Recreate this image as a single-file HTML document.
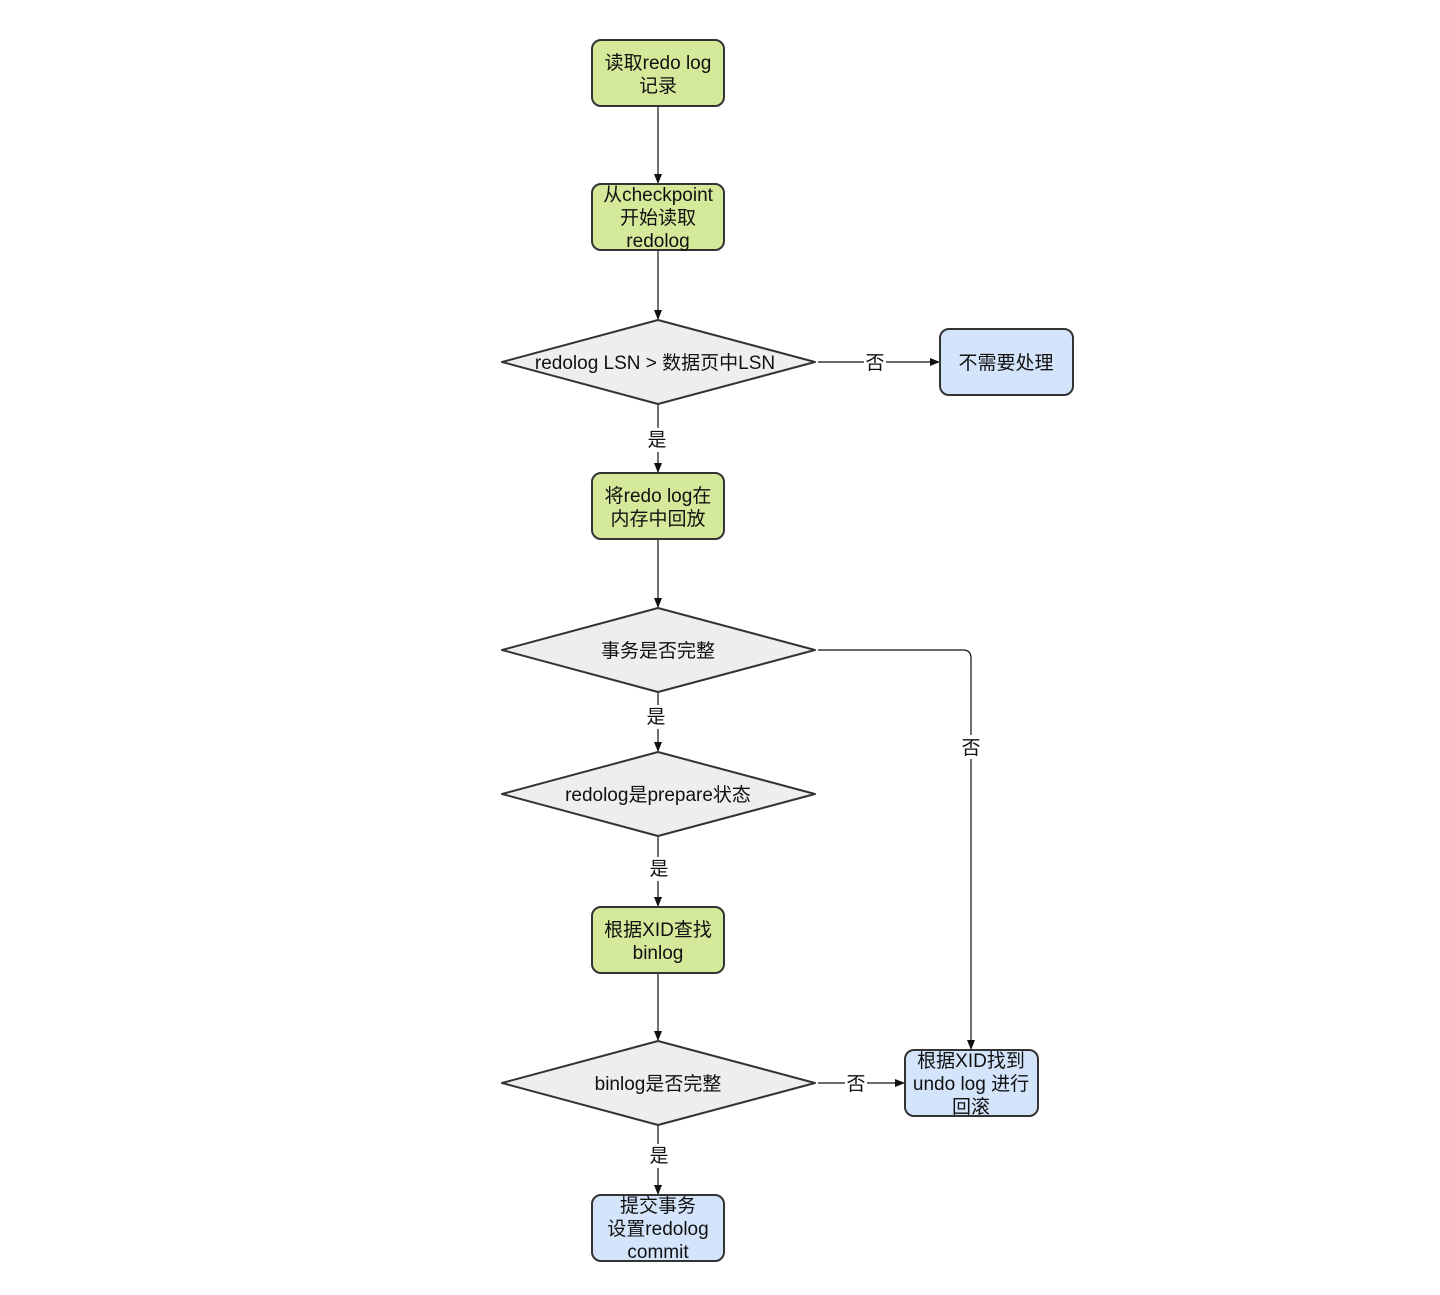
<!DOCTYPE html>
<html><head><meta charset="utf-8"><style>
body{margin:0;background:#fff}
text{font-family:"Liberation Sans","Noto Sans CJK SC",sans-serif;font-size:19px;fill:#111;text-anchor:middle}
</style></head><body>
<svg width="1440" height="1290" viewBox="0 0 1440 1290" xmlns="http://www.w3.org/2000/svg">
<defs><marker id="a" markerWidth="10" markerHeight="8" refX="9" refY="4" orient="auto" markerUnits="userSpaceOnUse"><path d="M0,0 L10,4 L0,8 z" fill="#111"/></marker></defs>
<g stroke="#111" stroke-width="1.2" fill="none" marker-end="url(#a)">
<line x1="658" y1="106" x2="658" y2="183"/>
<line x1="658" y1="250" x2="658" y2="319"/>
<line x1="818" y1="362" x2="939" y2="362"/>
<line x1="658" y1="404" x2="658" y2="472"/>
<line x1="658" y1="539" x2="658" y2="607"/>
<path d="M818,650 L963,650 Q971,650 971,658 L971,1049"/>
<line x1="658" y1="692" x2="658" y2="751"/>
<line x1="658" y1="836" x2="658" y2="906"/>
<line x1="658" y1="973" x2="658" y2="1040"/>
<line x1="818" y1="1083" x2="904" y2="1083"/>
<line x1="658" y1="1125" x2="658" y2="1194"/>
</g>
<g stroke="#333" stroke-width="2">
<rect x="592" y="40" width="132" height="66" rx="9" fill="#d5e99b"/>
<rect x="592" y="184" width="132" height="66" rx="9" fill="#d5e99b"/>
<rect x="592" y="473" width="132" height="66" rx="9" fill="#d5e99b"/>
<rect x="592" y="907" width="132" height="66" rx="9" fill="#d5e99b"/>
<rect x="940" y="329" width="133" height="66" rx="9" fill="#d4e5fb"/>
<rect x="905" y="1050" width="133" height="66" rx="9" fill="#d4e5fb"/>
<rect x="592" y="1195" width="132" height="66" rx="9" fill="#d4e5fb"/>
<path d="M658,320 L815,362 L658,404 L502,362 Z" fill="#eeeeee" stroke-linejoin="round"/>
<path d="M658,608 L815,650 L658,692 L502,650 Z" fill="#eeeeee" stroke-linejoin="round"/>
<path d="M658,752 L815,794 L658,836 L502,794 Z" fill="#eeeeee" stroke-linejoin="round"/>
<path d="M658,1041 L815,1083 L658,1125 L502,1083 Z" fill="#eeeeee" stroke-linejoin="round"/>
</g>
<g>
<rect x="864" y="350" width="22" height="24" fill="#fff"/>
<rect x="646" y="428" width="22" height="24" fill="#fff"/>
<rect x="646" y="705" width="22" height="24" fill="#fff"/>
<rect x="960" y="735" width="22" height="24" fill="#fff"/>
<rect x="648" y="857" width="22" height="24" fill="#fff"/>
<rect x="845" y="1071" width="22" height="24" fill="#fff"/>
<rect x="648" y="1144" width="22" height="24" fill="#fff"/>
</g>
<text x="658" y="69">读取redo log</text><text x="658" y="92">记录</text>
<text x="658" y="201">从checkpoint</text><text x="658" y="224">开始读取</text><text x="658" y="247">redolog</text>
<text x="655" y="369">redolog LSN &gt; 数据页中LSN</text>
<text x="1006" y="369">不需要处理</text>
<text x="875" y="369">否</text>
<text x="657" y="446">是</text>
<text x="658" y="502">将redo log在</text><text x="658" y="525">内存中回放</text>
<text x="658" y="657">事务是否完整</text>
<text x="656" y="723">是</text>
<text x="971" y="754">否</text>
<text x="658" y="801">redolog是prepare状态</text>
<text x="659" y="875">是</text>
<text x="658" y="936">根据XID查找</text><text x="658" y="959">binlog</text>
<text x="658" y="1090">binlog是否完整</text>
<text x="856" y="1090">否</text>
<text x="971" y="1067">根据XID找到</text><text x="971" y="1090">undo log 进行</text><text x="971" y="1113">回滚</text>
<text x="659" y="1162">是</text>
<text x="658" y="1212">提交事务</text><text x="658" y="1235">设置redolog</text><text x="658" y="1258">commit</text>
</svg>
</body></html>
